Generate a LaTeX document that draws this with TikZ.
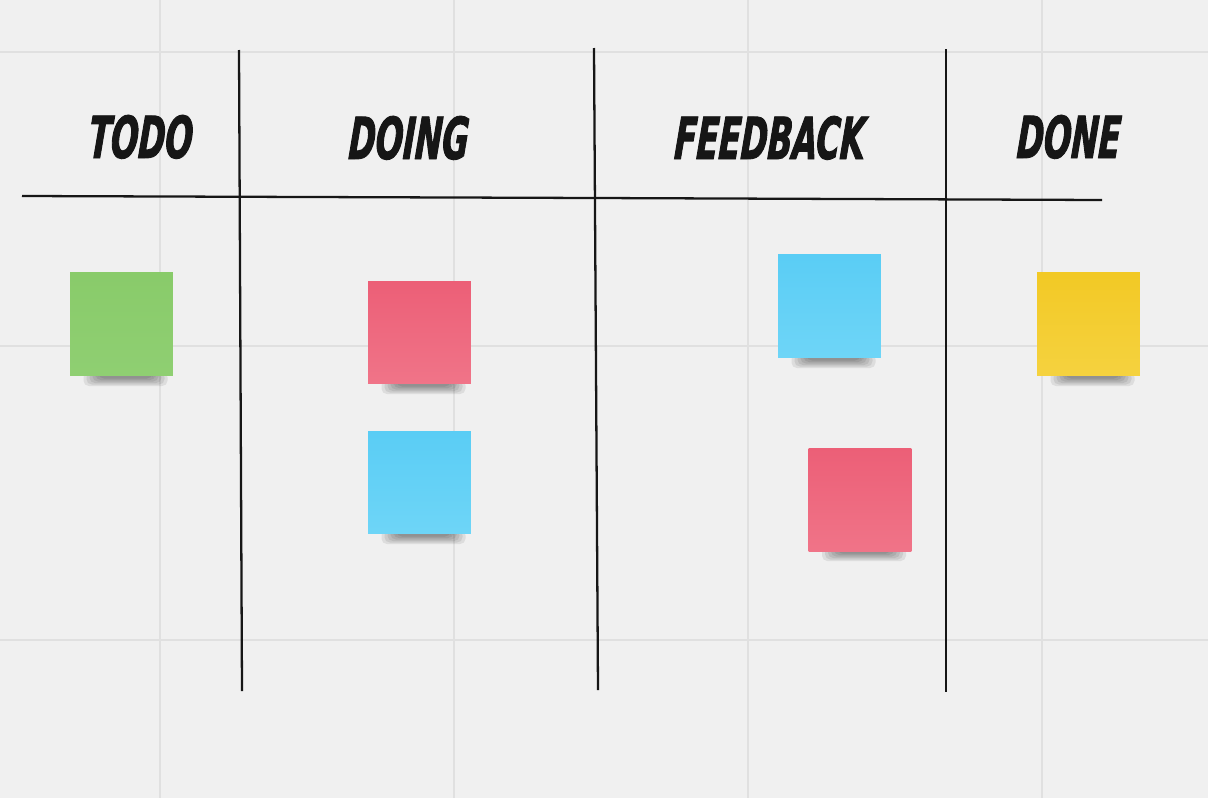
\documentclass[tikz,border=0pt]{standalone}
\usepackage{fontspec}
\newfontfamily\boardfont{DejaVu Sans Condensed}[FakeStretch=0.62, FakeBold=1.6, FakeSlant=0.06]
\usepackage{tikz}

\definecolor{boardbg}{HTML}{F0F0F0}
\definecolor{gridline}{HTML}{E0E0E0}
\definecolor{inkblack}{HTML}{161616}
\definecolor{notegreen}{HTML}{89CB6A}
\definecolor{notegreenlt}{HTML}{8FCF72}
\definecolor{notered}{HTML}{EC5F77}
\definecolor{noteredlt}{HTML}{F07488}
\definecolor{noteblue}{HTML}{5ACDF5}
\definecolor{notebluelt}{HTML}{6ED5F7}
\definecolor{noteyellow}{HTML}{F2C925}
\definecolor{noteyellowlt}{HTML}{F5D23F}

\tikzset{
  board line/.style={line width=1.3pt, inkblack},
  heading/.style={anchor=base, text=inkblack,
    font=\boardfont\bfseries\itshape\fontsize{33}{38}\selectfont},
  sticky/.style={rectangle, inner sep=0pt, minimum width=2.06cm, minimum height=2.06cm},
}

\begin{document}
\begin{tikzpicture}[x=0.02cm, y=-0.02cm]
        % Board background and faint grid
        \fill[boardbg] (0,0) rectangle (1208,798);
        \useasboundingbox (0,0) rectangle (1208,798);
        \foreach \gx in {160,454,748,1042}
          \draw[gridline, line width=1.2pt] (\gx,0) -- (\gx,798);
        \foreach \gy in {52,346,640}
          \draw[gridline, line width=1.2pt] (0,\gy) -- (1208,\gy);

        % Column separators and heading rule (hand drawn, slightly skewed)
        \draw[board line] (239,50) -- (242,691);
        \draw[board line] (594,48) -- (598,690);
        \draw[board line] (946,49) -- (946,692);
        \draw[board line] (22,196) -- (595,198) -- (1102,200);

        % Column headings
        \node[heading] (todo) at (140,158) {TODO};
        \node[heading] (doing) at (408,159) {DOING};
        \node[heading] (feedback) at (769,159) {FEEDBACK};
        \node[heading] (done) at (1068,158) {DONE};

        % Soft shadows under the notes
        \foreach \sx/\sy in {121.5/376, 419.5/384, 419.5/534, 829.5/358, 860/551, 1088.5/376}
          \foreach \k in {0,1,...,5}
            \fill[black, opacity=0.08, rounded corners=3pt]
              (\sx-38+3*\k,\sy-4) rectangle (\sx+46-3*\k,\sy+10-1.5*\k);

        % Sticky notes
        \node[sticky, top color=notegreen, bottom color=notegreenlt] (noteTodo) at (121.5,324) {};
        \node[sticky, top color=notered, bottom color=noteredlt] (noteDoingA) at (419.5,332.5) {};
        \node[sticky, top color=noteblue, bottom color=notebluelt] (noteDoingB) at (419.5,482.5) {};
        \node[sticky, top color=noteblue, bottom color=notebluelt] (noteFeedA) at (829.5,306) {};
        \node[sticky, top color=notered, bottom color=noteredlt] (noteFeedB) at (860,500) {};
        \node[sticky, top color=noteyellow, bottom color=noteyellowlt] (noteDone) at (1088.5,324) {};
      \end{tikzpicture}
\end{document}
